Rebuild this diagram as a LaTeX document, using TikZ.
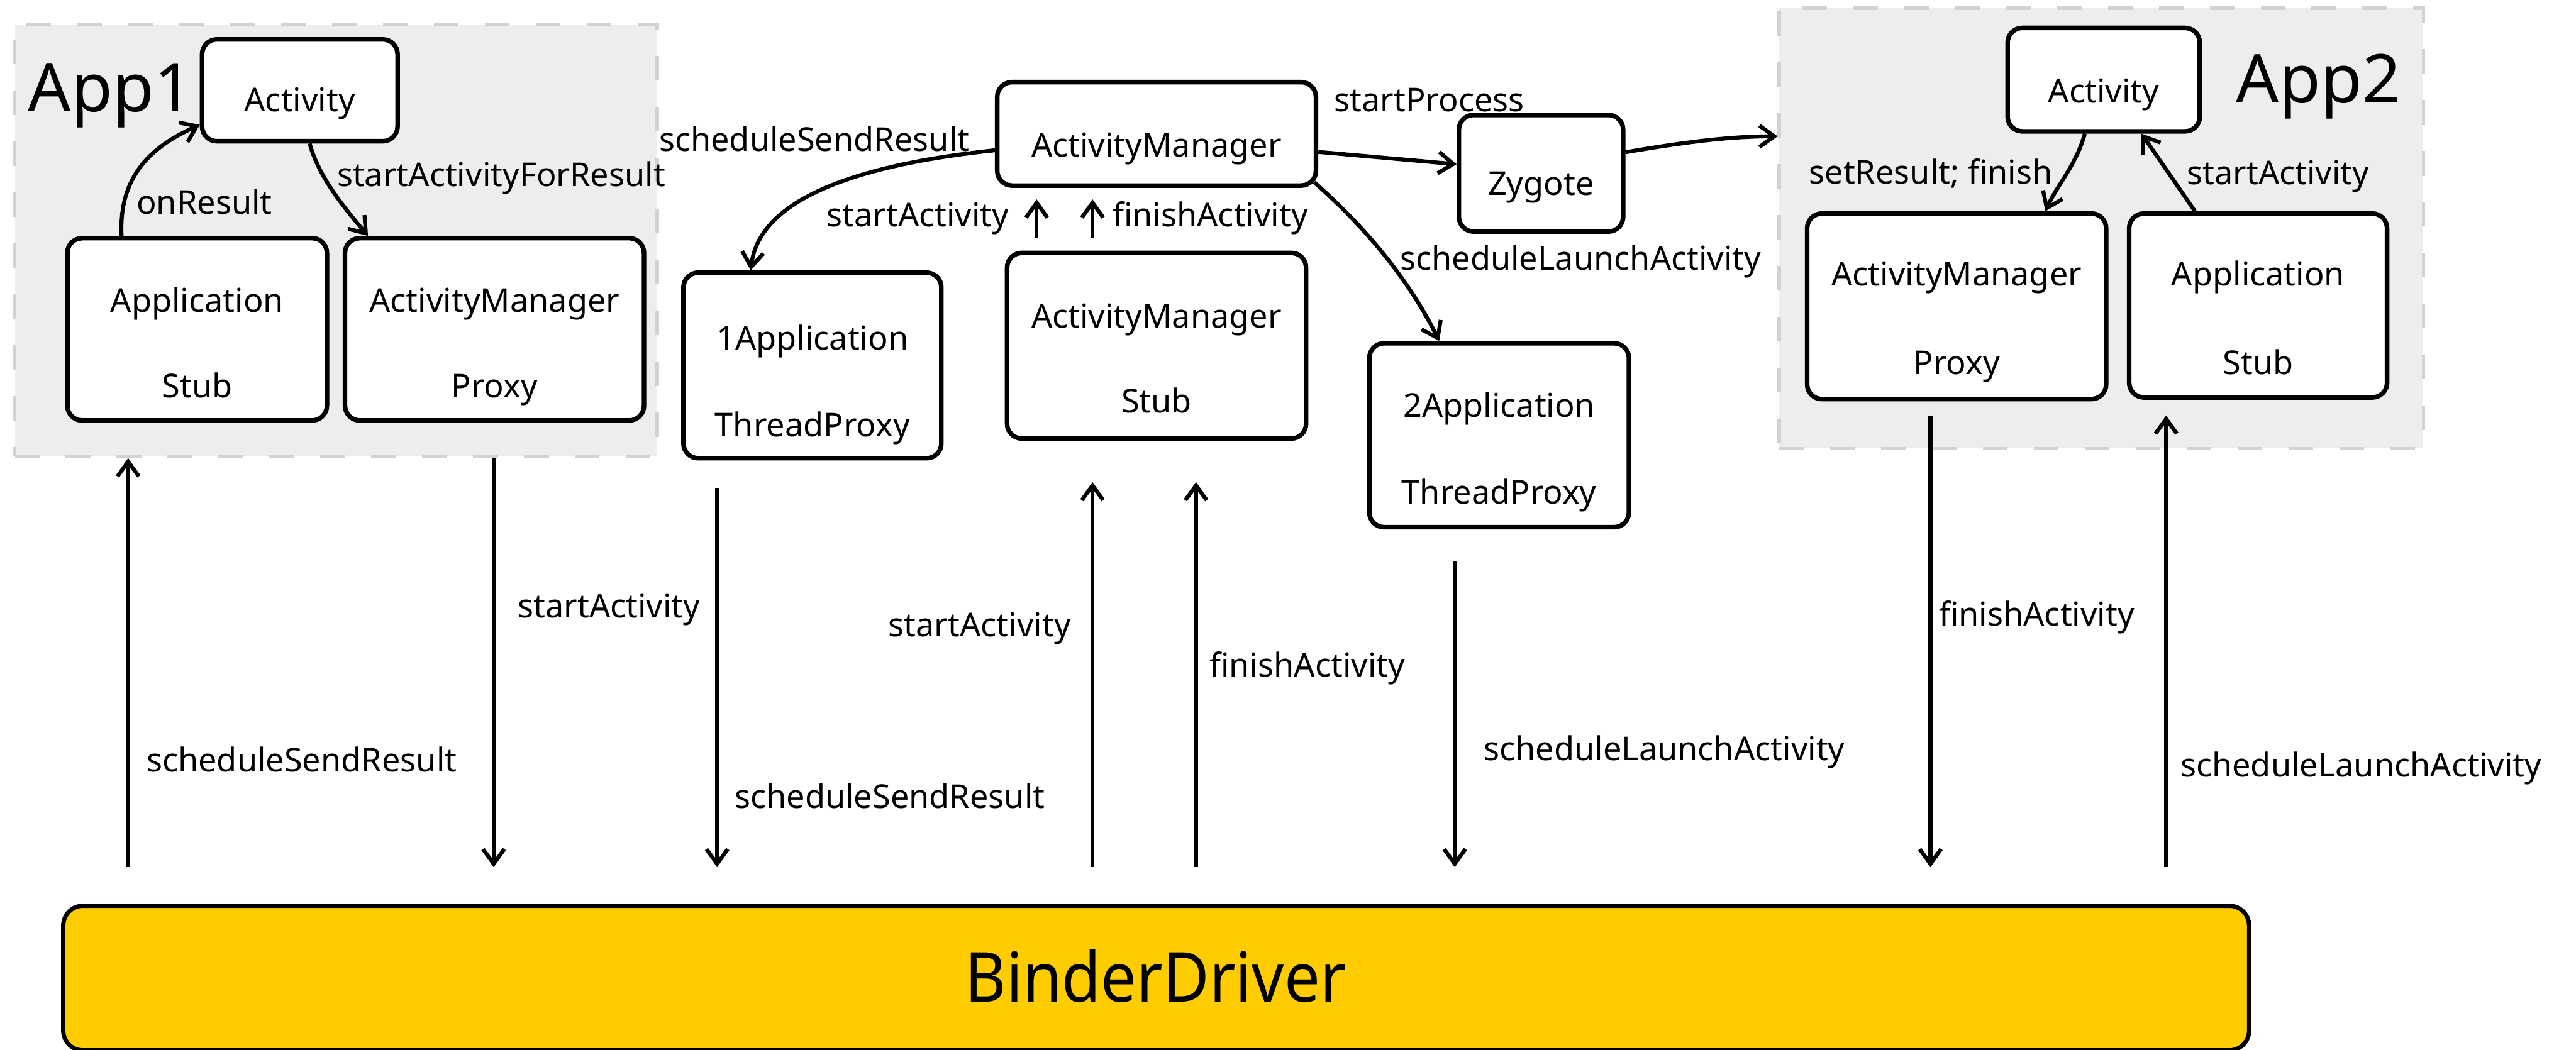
\documentclass[tikz,border=0pt]{standalone}
\usepackage{fontspec}
\setmainfont{Noto Sans}
\usetikzlibrary{arrows.meta}
\definecolor{grpfill}{HTML}{ECEDEF}
\definecolor{grpline}{HTML}{D2D2D2}
\definecolor{binderfill}{HTML}{FFCC00}
\newcommand\setfs[1]{\fontsize{#1}{#1}\selectfont}
\begin{document}
\begin{tikzpicture}[x=1pt,y=1pt,
  grp/.style={draw=grpline, fill=grpfill, line width=2pt, dash pattern=on 15pt off 16pt, inner sep=0pt},
  box/.style={draw=black, fill=white, line width=2.8pt, rounded corners=9pt, inner sep=0pt},
  btxt/.style={anchor=base, inner sep=0pt, font=\setfs{20}},
  ltxt/.style={anchor=base west, inner sep=0pt, font=\setfs{20}},
  big/.style={inner sep=0pt, font=\setfs{41}},
  arr/.style={draw=black, line width=2.4pt, -{Straight Barb[length=9pt,width=13pt]}},
]
\useasboundingbox (0,0) rectangle (1568,-639);

% process groups
\node[grp, minimum width=391, minimum height=263] (app1) at (204.5,-146.5) {};
\node[grp, minimum width=392, minimum height=268] (app2) at (1279,-139) {};
\node[big, anchor=base west] (app1lbl) at (17,-68) {App1};
\node[big, anchor=base west] (app2lbl) at (1361,-62.5) {App2};

% App1 components
\node[box, minimum width=119, minimum height=62] (a1act) at (182.5,-55) {};
\node[box, minimum width=158, minimum height=111] (a1stub) at (120,-200.5) {};
\node[box, minimum width=182, minimum height=111] (a1proxy) at (301,-200.5) {};
\node[btxt] (a1actt) at (182.5,-68) {Activity};
\node[btxt] (a1stubt1) at (120,-190) {Application};
\node[btxt] (a1stubt2) at (120,-242) {Stub};
\node[btxt] (a1proxyt1) at (301,-190) {ActivityManager};
\node[btxt] (a1proxyt2) at (301,-242) {Proxy};

% system server side
\node[box, minimum width=194, minimum height=63] (am) at (704,-81.5) {};
\node[box, minimum width=157, minimum height=113] (atp1) at (494.5,-222.5) {};
\node[box, minimum width=182, minimum height=113] (amstub) at (704,-210.5) {};
\node[box, minimum width=100, minimum height=71] (zyg) at (938,-105.5) {};
\node[box, minimum width=158, minimum height=112] (atp2) at (912.5,-265) {};
\node[btxt] (amt) at (704,-95.6) {ActivityManager};
\node[btxt] (atp1t1) at (494.5,-213) {1Application};
\node[btxt] (atp1t2) at (494.5,-266) {ThreadProxy};
\node[btxt] (amstubt1) at (704,-199.5) {ActivityManager};
\node[btxt] (amstubt2) at (704,-251.5) {Stub};
\node[btxt] (zygt) at (938,-119) {Zygote};
\node[btxt] (atp2t1) at (912.5,-254) {2Application};
\node[btxt] (atp2t2) at (912.5,-307) {ThreadProxy};

% App2 components
\node[box, minimum width=117, minimum height=63] (a2act) at (1280.5,-48.5) {};
\node[box, minimum width=182, minimum height=113] (a2proxy) at (1191,-186.5) {};
\node[box, minimum width=157, minimum height=112] (a2stub) at (1374.5,-186) {};
\node[btxt] (a2actt) at (1280.5,-62.5) {Activity};
\node[btxt] (a2proxyt1) at (1191,-174) {ActivityManager};
\node[btxt] (a2proxyt2) at (1191,-228) {Proxy};
\node[btxt] (a2stubt1) at (1374.5,-174) {Application};
\node[btxt] (a2stubt2) at (1374.5,-228) {Stub};

% binder driver
\node[draw=black, fill=binderfill, line width=2.6pt, rounded corners=12pt,
      minimum width=1330.5, minimum height=88, inner sep=0pt] (binder) at (703.75,-595.5) {};
\node[big, anchor=base, font=\setfs{42}] (bindert) at (703.5,-610) {\scalebox{0.92}[1]{BinderDriver}};

% calls inside the processes
\draw[arr] ([xshift=-46]a1stub.north) .. controls (72,-105) and (95,-88) .. ([yshift=-21]a1act.west);
\draw[arr] ([xshift=6]a1act.south) .. controls (194,-108) and (210,-127) .. ([xshift=-77]a1proxy.north);
\draw[arr] ([yshift=-10]am.west) .. controls (525,-100) and (462,-120) .. ([xshift=-37.5]atp1.north);
\draw[arr] ([yshift=-11]am.east) -- ([yshift=5.5]zyg.west);
\draw[arr] ([yshift=12.8]zyg.east) .. controls (1020,-87.5) and (1050,-83) .. ([yshift=56]app2.west);
\draw[arr] ([xshift=-2.5,yshift=3.5]am.south east) .. controls (825,-133) and (855,-165) .. ([xshift=-36.5]atp2.north);
\draw[arr] ([xshift=-11.5]a2act.south) .. controls (1264,-100) and (1252,-113) .. ([xshift=54]a2proxy.north);
\draw[arr] ([xshift=-38.5]a2stub.north) -- ([xshift=23]a2act.south);
\draw[arr] ([xshift=-73,yshift=8]amstub.north) -- ([xshift=-73,yshift=-7]am.south);
\draw[arr] ([xshift=-39,yshift=8]amstub.north) -- ([xshift=-39,yshift=-7]am.south);

\node[ltxt] (lonres) at (83,-130.5) {onResult};
\node[ltxt] (lsafr) at (205,-113.5) {startActivityForResult};
\node[ltxt] (lssr0) at (401,-92) {scheduleSendResult};
\node[ltxt] (lsa0) at (503,-138) {startActivity};
\node[ltxt] (lfa0) at (677,-138) {finishActivity};
\node[ltxt] (lsp) at (812,-68) {startProcess};
\node[ltxt] (lsla0) at (852,-164.5) {scheduleLaunchActivity};
\node[ltxt] (lsrf) at (1101,-112) {setResult; finish};
\node[ltxt] (lsa2) at (1331,-112.5) {startActivity};

% transactions through the binder driver
\coordinate (v1) at (78,-528);
\coordinate (v2) at (300.5,-528);
\coordinate (v3t) at (436.5,-297);
\coordinate (v3b) at (436.5,-528);
\coordinate (v4t) at (665,-293.5);
\coordinate (v4b) at (665,-528);
\coordinate (v5t) at (728,-293.5);
\coordinate (v5b) at (728,-528);
\coordinate (v6t) at (885.5,-342);
\coordinate (v6b) at (885.5,-528);
\coordinate (v7t) at (1175,-253);
\coordinate (v7b) at (1175,-528);
\coordinate (v8t) at (1318.5,-253);
\coordinate (v8b) at (1318.5,-528);

\draw[arr] (v1) -- (v1 |- app1.south);
\draw[arr] (v2 |- app1.south) -- (v2);
\draw[arr] (v3t) -- (v3b);
\draw[arr] (v4b) -- (v4t);
\draw[arr] (v5b) -- (v5t);
\draw[arr] (v6t) -- (v6b);
\draw[arr] (v7t) -- (v7b);
\draw[arr] (v8b) -- (v8t);

\node[ltxt] (lv1) at (89,-470) {scheduleSendResult};
\node[ltxt] (lv2) at (315,-376) {startActivity};
\node[ltxt] (lv3) at (447,-492) {scheduleSendResult};
\node[ltxt, anchor=base east] (lv4) at (652,-387.6) {startActivity};
\node[ltxt] (lv5) at (736,-412) {finishActivity};
\node[ltxt] (lv6) at (903,-463) {scheduleLaunchActivity};
\node[ltxt] (lv7) at (1180,-381) {finishActivity};
\node[ltxt] (lv8) at (1327,-473) {scheduleLaunchActivity};
\end{tikzpicture}
\end{document}
